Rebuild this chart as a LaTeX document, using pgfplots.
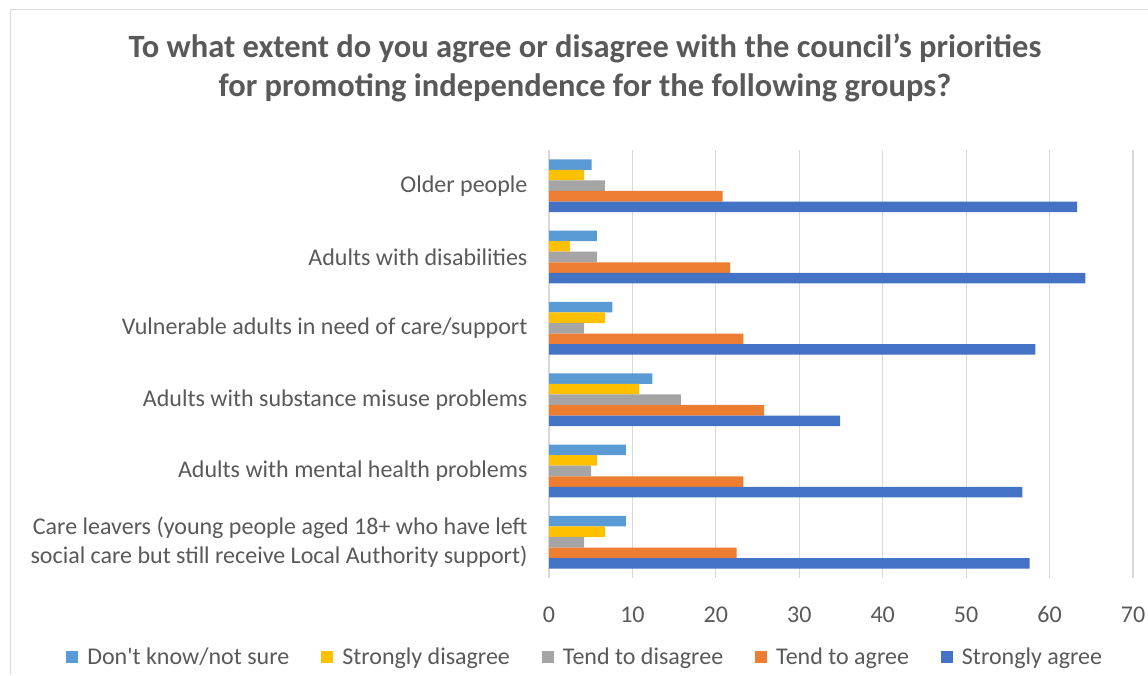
\documentclass[border=0pt]{standalone}
\usepackage{pgfplots}
\pgfplotsset{compat=1.18}
\usepackage{fontspec}
\setmainfont{Carlito}
\definecolor{cDK}{HTML}{5B9BD5}
\definecolor{cSD}{HTML}{FFC000}
\definecolor{cTD}{HTML}{A5A5A5}
\definecolor{cTA}{HTML}{ED7D31}
\definecolor{cSA}{HTML}{4472C4}
\definecolor{txt}{HTML}{595959}
\definecolor{gridc}{HTML}{D9D9D9}
\begin{document}
\begin{tikzpicture}
\useasboundingbox (0pt,0pt) rectangle (1148pt,675pt);
\draw[gridc, line width=1pt] (10pt,0pt) -- (10pt,665pt) -- (1148pt,665pt);
\node[txt, font=\fontsize{32.5}{39}\selectfont\bfseries, align=center] at (585pt,607pt)
  {To what extent do you agree or disagree with the council’s priorities\\for promoting independence for the following groups?};
\begin{axis}[
  at={(549pt,97pt)}, anchor=south west,
  scale only axis, width=584pt, height=428pt,
  xmin=0, xmax=70, ymin=-0.5, ymax=5.5,
  xtick={0,10,...,70},
  ytick={0,1,2,3,4,5},
  yticklabels={{Care leavers (young people aged 18+ who have left\\social care but still receive Local Authority support)},
    Adults with mental health problems,
    Adults with substance misuse problems,
    Vulnerable adults in need of care/support,
    Adults with disabilities,
    Older people},
  yticklabel style={align=right, font=\fontsize{24}{29}\selectfont, text=txt, xshift=-18pt},
  xticklabel style={font=\fontsize{24}{29}\selectfont, text=txt, yshift=-25pt},
  /pgf/number format/assume math mode=true,
  major tick length=0pt,
  axis line style={draw=none},
  xmajorgrids, grid style={draw=gridc, line width=1.2pt},
  xbar, bar width=0.148,
  legend columns=5,
  legend style={at={(0.062,-0.185)}, anchor=center, draw=none, fill=none,
    font=\fontsize{24}{29}\selectfont, text=txt,
    /tikz/every odd column/.append style={column sep=7pt},
    /tikz/every even column/.append style={column sep=30pt}},
  legend image code/.code={\fill[#1] (0pt,-6pt) rectangle (12pt,6pt);},
]
\addplot[fill=cDK, draw=none, bar shift=0.296] coordinates {(5.1,5) (5.75,4) (7.6,3) (12.4,2) (9.2,1) (9.2,0)};
\addplot[fill=cSD, draw=none, bar shift=0.148] coordinates {(4.2,5) (2.5,4) (6.7,3) (10.8,2) (5.75,1) (6.7,0)};
\addplot[fill=cTD, draw=none, bar shift=0] coordinates {(6.7,5) (5.75,4) (4.2,3) (15.8,2) (5.05,1) (4.2,0)};
\addplot[fill=cTA, draw=none, bar shift=-0.148] coordinates {(20.8,5) (21.7,4) (23.3,3) (25.8,2) (23.3,1) (22.5,0)};
\addplot[fill=cSA, draw=none, bar shift=-0.296] coordinates {(63.3,5) (64.3,4) (58.3,3) (34.9,2) (56.75,1) (57.6,0)};
\legend{Don\textquotesingle t know/not sure, Strongly disagree, Tend to disagree, Tend to agree, Strongly agree}
\end{axis}
\end{tikzpicture}
\end{document}
